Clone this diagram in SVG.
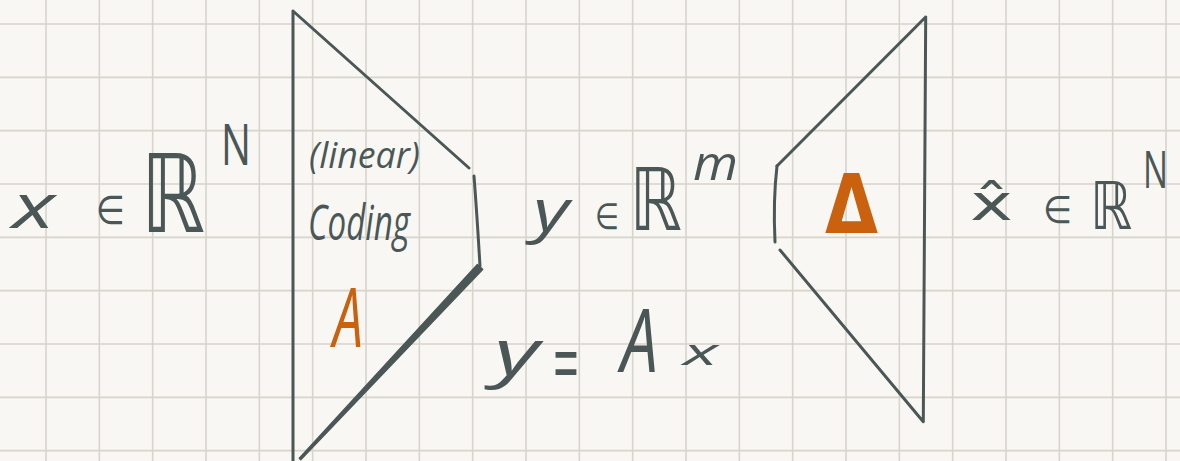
<svg xmlns="http://www.w3.org/2000/svg" width="1180" height="461" viewBox="0 0 1180 461">
  <style>
    .grid{fill:none;stroke:#d8d4cc;stroke-width:1.6}
    .ink{fill:none;stroke:#4b5757;stroke-width:3;stroke-linecap:round;stroke-linejoin:round}
    .t{font-family:"Open Sans","DejaVu Sans",sans-serif;font-style:italic;fill:#4b5757}
    .u{font-family:"Open Sans","DejaVu Sans",sans-serif;fill:#4b5757}
    .m{font-family:"DejaVu Sans",sans-serif;fill:#4b5757}
    .o{fill:#c9610f}
  </style>
  <rect width="1180" height="461" fill="#f9f7f3"/>
  <path class="grid" d="M46 0V461M99.33 0V461M152.67 0V461M206 0V461M259.33 0V461M312.67 0V461M366 0V461M419.33 0V461M472.67 0V461M526 0V461M579.33 0V461M632.67 0V461M686 0V461M739.33 0V461M792.67 0V461M846 0V461M899.33 0V461M952.67 0V461M1006 0V461M1059.33 0V461M1112.67 0V461M1166 0V461M0 24H1180M0 77.33H1180M0 130.67H1180M0 184H1180M0 237.33H1180M0 290.67H1180M0 344H1180M0 397.33H1180M0 450.67H1180"/>

  <g id="input">
    <text class="t" x="12" y="228" font-size="62" textLength="43" lengthAdjust="spacingAndGlyphs">x</text>
    <text class="m" x="96" y="224" font-size="40" textLength="29" lengthAdjust="spacingAndGlyphs">∈</text>
    <text class="m" x="141" y="232" font-size="108" textLength="64" lengthAdjust="spacingAndGlyphs">ℝ</text>
    <text class="u" x="221" y="165" font-size="56" textLength="30" lengthAdjust="spacingAndGlyphs">N</text>
  </g>

  <g id="encoder">
    <path class="ink" d="M293 11V461M293 11L469 168"/>
    <path class="ink" stroke-width="4" d="M474 176Q477 215 480 266"/>
    <polygon points="482.6,269.4 477.4,264.6 299.3,458.3 300.7,459.7" fill="#4b5757" stroke="#4b5757" stroke-width="1.5" stroke-linejoin="round"/>
    <text class="t" x="309" y="168" font-size="37" textLength="111" lengthAdjust="spacingAndGlyphs">(linear)</text>
    <text class="t" x="308" y="240" font-size="50" textLength="102" lengthAdjust="spacingAndGlyphs">Coding</text>
    <text class="t o" x="333" y="347" font-size="82" textLength="30" lengthAdjust="spacingAndGlyphs">A</text>
  </g>

  <g id="code">
    <text class="t" x="533" y="231" font-size="58" textLength="36" lengthAdjust="spacingAndGlyphs">y</text>
    <text class="m" x="595" y="229" font-size="36" textLength="24" lengthAdjust="spacingAndGlyphs">∈</text>
    <text class="m" x="630" y="230" font-size="86" textLength="52" lengthAdjust="spacingAndGlyphs">ℝ</text>
    <text class="t" x="693" y="180" font-size="47" textLength="45" lengthAdjust="spacingAndGlyphs">m</text>
  </g>

  <g id="equation">
    <text class="t" x="494" y="375" font-size="64" textLength="45" lengthAdjust="spacingAndGlyphs">y</text>
    <text class="u" x="553" y="394" font-size="88" textLength="26" lengthAdjust="spacingAndGlyphs">=</text>
    <text class="t" x="621" y="372" font-size="87" textLength="37" lengthAdjust="spacingAndGlyphs">A</text>
    <text class="t" x="683" y="365" font-size="36" textLength="35" lengthAdjust="spacingAndGlyphs">x</text>
  </g>

  <g id="decoder">
    <path class="ink" d="M925.7 17L923.3 421.7M925.7 17L777 166M780 250L923.3 421.7"/>
    <path class="ink" stroke-width="4" d="M777 166Q773 200 775 242"/>
    <text class="o" x="825" y="233" font-family="DejaVu Sans, sans-serif" font-weight="bold" font-size="82" textLength="53" lengthAdjust="spacingAndGlyphs">Δ</text>
  </g>

  <g id="output">
    <text class="m" x="970" y="220" font-size="50" textLength="43" lengthAdjust="spacingAndGlyphs">x̂</text>
    <text class="m" x="1043" y="223" font-size="38" textLength="29" lengthAdjust="spacingAndGlyphs">∈</text>
    <text class="m" x="1090" y="229" font-size="66" textLength="42" lengthAdjust="spacingAndGlyphs">ℝ</text>
    <text class="u" x="1143" y="188" font-size="52" textLength="25" lengthAdjust="spacingAndGlyphs">N</text>
  </g>
</svg>
